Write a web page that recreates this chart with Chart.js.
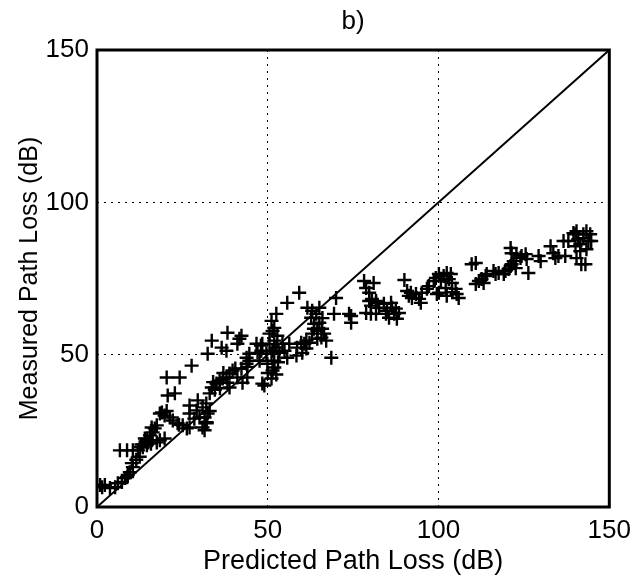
<!DOCTYPE html>
<html>
<head>
<meta charset="utf-8">
<script src="https://cdn.jsdelivr.net/npm/chart.js@4"></script>
<style>
html,body{margin:0;padding:0;background:#fff;}
#wrap{width:639px;height:582px;}
</style>
</head>
<body>
<div id="wrap"><canvas id="c" width="639" height="582"></canvas></div>
<script>
// Predicted path loss (x) and measured path loss (y), in dB
const predicted = [
  0.9,1.5,2.3,3.8,5.3,6.1,7.3,8.2,8.8,9.0,9.6,10.5,10.2,11.5,12.5,
  6.7,8.8,10.5,12.0,12.5,13.4,14.6,14.9,16.0,17.5,18.4,19.8,14.0,15.5,16.3,16.9,16.0,17.5,14.6,13.0,15.8,
  18.4,19.8,21.3,22.2,23.6,25.1,26.3,27.1,27.1,29.2,30.9,30.0,32.1,31.5,32.4,27.1,29.5,31.5,32.1,30.9,19.0,20.4,24.0,28.5,33.0,
  33.0,33.6,35.0,35.9,36.8,37.9,38.8,38.2,39.7,38.8,41.1,42.3,43.8,44.6,44.0,42.6,32.0,34.5,36.0,34.0,37.0,40.5,
  20.4,24.2,20.7,22.8,27.7,32.4,33.6,36.5,38.2,37.9,41.1,41.7,42.3,44.6,46.7,48.1,
  49.0,48.4,47.6,48.4,49.6,49.9,51.4,51.9,51.1,51.9,50.5,51.4,52.5,52.8,51.1,51.9,51.4,51.1,51.9,53.4,54.3,54.9,56.3,55.7,43.8,44.0,47.0,48.0,50.0,52.5,53.0,50.5,
  52.5,55.7,59.2,70.0,
  61.6,63.0,62.7,64.2,65.1,63.6,65.1,64.5,65.9,65.7,64.5,66.5,67.1,63.0,62.2,58.6,59.8,60.1,61.3,58.4,61.3,60.7,69.4,73.8,74.4,74.4,68.6,66.0,63.5,
  78.8,79.7,80.5,80.2,78.8,81.7,78.2,81.0,79.7,81.7,82.6,84.0,84.9,86.1,86.4,87.0,87.5,88.4,87.8,85.5,81.7,80.2,84.6,90.0,
  90.8,91.9,92.2,91.3,93.4,94.3,94.8,95.1,96.6,97.2,98.6,99.2,100.1,100.7,101.5,102.4,103.0,103.6,103.9,105.0,105.3,105.9,99.5,100.1,102.1,102.4,104.0,
  109.7,110.9,110.9,111.8,112.6,113.8,113.2,114.1,116.1,116.7,117.6,119.1,119.6,120.5,121.1,121.4,122.0,122.6,121.1,121.4,122.8,124.0,124.3,125.5,125.8,126.3,
  129.3,129.9,132.8,133.6,134.2,135.1,136.6,137.1,138.0,140.1,140.4,140.9,141.5,142.4,141.8,143.0,143.3,143.9,144.4,140.1,141.5,139.5,140.4,143.3,144.7,142.4
];
const measured = [
  7.2,6.5,7.2,6.2,6.5,7.8,8.2,9.5,9.8,10.5,11.4,13.1,14.4,15.5,16.5,
  18.6,18.6,18.6,18.6,19.6,19.6,20.3,21.2,21.9,21.2,21.9,22.5,22.5,23.5,24.5,25.8,26.1,26.8,22.0,20.5,20.8,
  30.7,30.0,29.4,28.4,27.5,26.8,25.8,26.1,30.7,31.7,32.7,29.4,27.8,25.2,30.7,33.3,35.0,29.4,27.5,26.1,31.0,31.5,27.0,29.0,31.5,
  37.3,39.2,40.5,41.5,42.2,42.5,43.8,40.8,44.8,39.2,42.5,45.4,47.0,48.0,42.5,40.8,34.0,38.5,39.0,41.0,44.0,45.5,
  42.5,42.5,36.6,37.3,46.4,50.3,54.6,52.3,57.2,51.3,53.6,55.2,56.2,50.3,53.6,51.3,
  39.9,40.5,48.0,53.6,50.3,47.0,51.3,54.6,61.1,58.8,56.9,57.8,52.3,56.2,50.3,48.0,44.8,42.2,45.8,50.6,53.6,51.3,53.6,49.0,49.0,46.0,50.6,53.0,44.0,43.5,47.5,53.5,
  63.4,67.0,70.3,68.6,
  65.4,64.4,62.1,63.4,65.4,60.1,60.5,57.8,58.5,55.6,55.2,56.9,54.6,56.9,53.9,52.3,53.9,50.6,54.6,49.7,52.0,53.6,63.4,63.4,60.5,62.7,49.0,62.0,58.5,
  71.9,70.3,68.3,66.1,63.7,67.6,74.2,73.5,67.6,67.0,65.4,66.7,64.4,67.0,65.4,63.4,65.1,63.7,61.8,62.1,63.4,63.4,63.4,74.5,
  70.9,70.3,68.6,69.3,69.9,68.3,67.0,70.3,71.6,72.5,74.2,75.2,76.5,74.2,75.8,76.8,74.8,76.5,73.5,71.6,69.9,68.6,69.9,70.3,71.9,69.3,70.5,
  79.7,80.1,73.2,74.2,74.8,75.8,73.5,76.5,77.5,76.5,76.8,76.5,77.5,78.1,79.1,79.7,80.7,78.4,85.0,83.3,83.0,81.7,82.4,83.0,81.4,76.8,
  82.4,80.7,85.6,83.3,81.7,82.4,87.3,82.4,87.3,89.5,81.7,87.9,86.3,88.2,79.7,79.7,84.6,87.3,89.5,85.6,84.0,89.9,90.5,90.5,87.3,89.5
];
// Reference line y = x
const lineX = [0, 150];
const lineY = [0, 150];
// Axis tick values
const tickValues = [0, 50, 100, 150];

const FONT = 'Liberation Sans, Arial, sans-serif';
const FS = 26;

const scatterPts = predicted.map((x, i) => ({x: x, y: measured[i]}));
const linePts = lineX.map((x, i) => ({x: x, y: lineY[i]}));

const framePlugin = {
  id: 'frame',
  afterDatasetsDraw(chart) {
    const a = chart.chartArea, ctx = chart.ctx;
    ctx.save();
    ctx.strokeStyle = '#000';
    ctx.lineWidth = 3;
    ctx.strokeRect(a.left, a.top, a.right - a.left, a.bottom - a.top);
    ctx.restore();
  }
};

function setTicks(scale) {
  scale.ticks = tickValues.map(v => ({value: v}));
}
const gridColor = c => (c.tick && (c.tick.value === 0 || c.tick.value === 150)) ? 'rgba(0,0,0,0)' : '#000';

new Chart(document.getElementById('c'), {
  type: 'scatter',
  data: {
    datasets: [
      {
        data: scatterPts,
        pointStyle: 'cross',
        pointRadius: 7,
        pointHoverRadius: 7,
        borderColor: '#000',
        backgroundColor: '#000',
        pointBorderWidth: 2.4,
        borderWidth: 2.4
      },
      {
        data: linePts,
        showLine: true,
        pointRadius: 0,
        borderColor: '#000',
        borderWidth: 2,
        fill: false
      }
    ]
  },
  options: {
    responsive: false,
    animation: false,
    events: [],
    layout: {padding: {left: 0, right: 28, top: 0, bottom: 0}},
    plugins: {legend: {display: false}, tooltip: {enabled: false}, title: {display: false}},
    scales: {
      x: {
        type: 'linear', position: 'bottom', min: 0, max: 150,
        afterBuildTicks: setTicks,
        afterFit: s => { s.height = 75; },
        ticks: {color: '#000', font: {family: FONT, size: FS}, padding: 8, maxRotation: 0},
        grid: {display: true, drawTicks: false, color: gridColor, lineWidth: 1},
        border: {display: false, dash: [2, 5]},
        title: {display: true, text: 'Predicted Path Loss (dB)', color: '#000', font: {family: FONT, size: 27}, padding: {top: 0, bottom: 4}}
      },
      x2: {
        type: 'linear', position: 'top', min: 0, max: 150,
        afterFit: s => { s.height = 50; },
        ticks: {display: false},
        grid: {display: false},
        border: {display: false},
        title: {display: true, text: 'b)', color: '#000', font: {family: FONT, size: FS}, padding: {top: 6, bottom: 0}}
      },
      y: {
        type: 'linear', position: 'left', min: 0, max: 150,
        afterBuildTicks: setTicks,
        afterFit: s => { s.width = 97; },
        ticks: {color: '#000', font: {family: FONT, size: FS}, padding: 8},
        grid: {display: true, drawTicks: false, color: gridColor, lineWidth: 1},
        border: {display: false, dash: [2, 5]},
        title: {display: true, text: 'Measured Path Loss (dB)', color: '#000', font: {family: FONT, size: 25}, padding: {top: 15, bottom: 0}}
      }
    }
  },
  plugins: [framePlugin]
});
</script>
</body>
</html>
